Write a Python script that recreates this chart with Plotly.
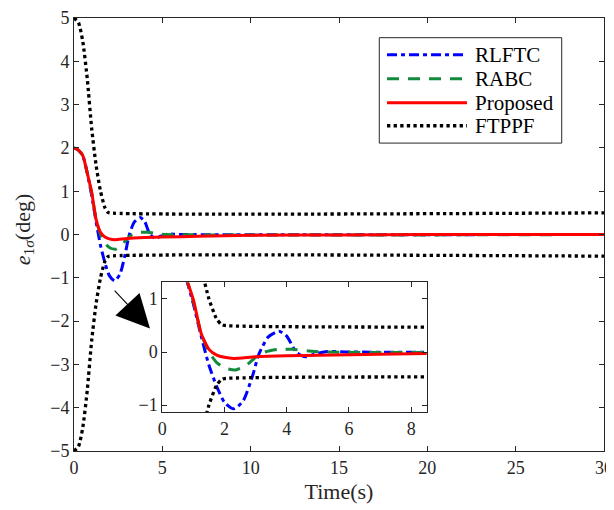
import plotly.graph_objects as go

# ---- data ----
t_bound = [0, 0.25, 0.5, 0.75, 1.0, 1.25, 1.5, 1.75, 1.9, 2.0, 30]
upper = [5.0, 4.9, 4.45, 3.6, 2.45, 1.6, 1.0, 0.62, 0.52, 0.5, 0.5]
lower = [-v for v in upper]

t_prop = [0, 0.25, 0.5, 0.75, 1.0, 1.25, 1.5, 1.75, 2.0, 2.3, 3.0, 4.0, 5.0, 7.0, 10, 15, 20, 30]
prop = [2.0, 1.95, 1.82, 1.42, 0.98, 0.35, 0.05, -0.06, -0.1, -0.12, -0.09, -0.07, -0.06, -0.04, -0.02, -0.01, 0.0, 0.0]

t_rl = [0, 0.25, 0.5, 0.75, 1.0, 1.25, 1.5, 1.75, 2.0, 2.3, 2.6, 2.9, 3.1, 3.4, 3.75, 4.0, 4.3, 4.6, 4.9, 5.3, 6, 30]
rl = [2.0, 1.95, 1.82, 1.42, 0.9, 0.3, -0.25, -0.65, -0.95, -1.07, -0.92, -0.45, -0.05, 0.28, 0.39, 0.3, 0.0, -0.09, -0.04, 0.01, 0.0, 0.0]

t_ra = [0, 0.25, 0.5, 0.75, 1.0, 1.25, 1.5, 1.75, 2.0, 2.35, 2.7, 3.0, 3.3, 3.7, 4.2, 4.7, 5.2, 30]
ra = [2.0, 1.95, 1.82, 1.42, 0.95, 0.35, 0.0, -0.2, -0.3, -0.34, -0.25, -0.1, 0.0, 0.05, 0.05, 0.02, 0.0, 0.0]

legend_names = ["RLFTC", "RABC", "Proposed", "FTPPF"]

x_ticks = [0, 5, 10, 15, 20, 25, 30]
y_ticks = [-5, -4, -3, -2, -1, 0, 1, 2, 3, 4, 5]
x2_ticks = [0, 2, 4, 6, 8]
y2_ticks = [-1, 0, 1]

FONT = "Liberation Serif"
BLUE = "#0000FF"
GREEN = "#138A3C"
RED = "#FF0000"
BLACK = "#000000"
AXC = "#262626"

styles = {
    "RLFTC": dict(color=BLUE, width=3, dash="10px,4px,4px,4px"),
    "RABC": dict(color=GREEN, width=3, dash="12px,9px"),
    "Proposed": dict(color=RED, width=3),
    "FTPPF": dict(color=BLACK, width=3.3, dash="dot"),
}
series = [("RLFTC", t_rl, rl), ("RABC", t_ra, ra), ("Proposed", t_prop, prop),
          ("FTPPF", t_bound, upper), ("FTPPF", t_bound, lower)]

fig = go.Figure()
for ax_x, ax_y in [("x", "y"), ("x2", "y2")]:
    for name, t, v in series:
        fig.add_trace(go.Scatter(x=t, y=v, mode="lines", name=name,
                                 line=dict(shape="spline", smoothing=0.6, **styles[name]),
                                 xaxis=ax_x, yaxis=ax_y, showlegend=False))

axis_common = dict(showgrid=False, zeroline=False, showline=True, linecolor=AXC, linewidth=1,
                   mirror="ticks", ticks="inside", ticklen=5, tickcolor=AXC, automargin=False,
                   tickfont=dict(family=FONT, size=18, color=AXC))

# the page body adds an 8px offset, so margins are shifted by 8px
fig.update_layout(
    width=614, height=502,
    margin=dict(l=66, r=18, t=10, b=59.3),
    paper_bgcolor="white", plot_bgcolor="white",
    font=dict(family=FONT, size=18, color=AXC),
    xaxis=dict(domain=[0, 1], range=[0, 30], tickvals=x_ticks,
               title=dict(text="Time(s)", standoff=7, font=dict(family=FONT, size=22, color=AXC)), **axis_common),
    yaxis=dict(domain=[0, 1], range=[-5, 5], tickvals=y_ticks, **axis_common),
    xaxis2=dict(domain=[0.1666, 0.6655], range=[0, 8.5], tickvals=x2_ticks, anchor="y2", **axis_common),
    yaxis2=dict(domain=[0.0901, 0.3892], range=[-1.13, 1.31], tickvals=y2_ticks, anchor="x2", **axis_common),
    showlegend=False,
)

# y-axis title
fig.add_annotation(x=-0.0943, y=0.51, xref="paper", yref="paper", text="<i>e</i><sub>1<i>σ</i></sub>(deg)",
                   textangle=-90, showarrow=False, xanchor="center", yanchor="middle",
                   font=dict(family=FONT, size=22, color=AXC))

# hand-drawn legend box (paper coordinates of the main plot area)
lx0, lx1, ly0, ly1 = 0.5760, 0.9202, 0.7111, 0.9545
fig.add_shape(type="rect", xref="paper", yref="paper", x0=lx0, x1=lx1, y0=ly0, y1=ly1,
              line=dict(color=AXC, width=1), fillcolor="white", layer="above")
row_y = [0.9152, 0.8597, 0.8043, 0.7512]
for name, ry in zip(legend_names, row_y):
    st = styles[name]
    fig.add_shape(type="line", xref="paper", yref="paper", x0=0.5906, x1=0.7415, y0=ry, y1=ry,
                  line=dict(color=st["color"], width=st["width"], dash=st.get("dash", "solid")), layer="above")
    fig.add_annotation(x=0.7530, y=ry, xref="paper", yref="paper", text=name, showarrow=False,
                       xanchor="left", yanchor="middle", font=dict(family=FONT, size=21, color="black"))

fig.add_annotation(x=4.3, y=-2.17, ax=2.22, ay=-1.26, xref="x", yref="y", axref="x", ayref="y",
                   showarrow=True, arrowhead=2, arrowsize=6, arrowwidth=1.1, arrowcolor="black", text="")

fig.write_html("out.html")
